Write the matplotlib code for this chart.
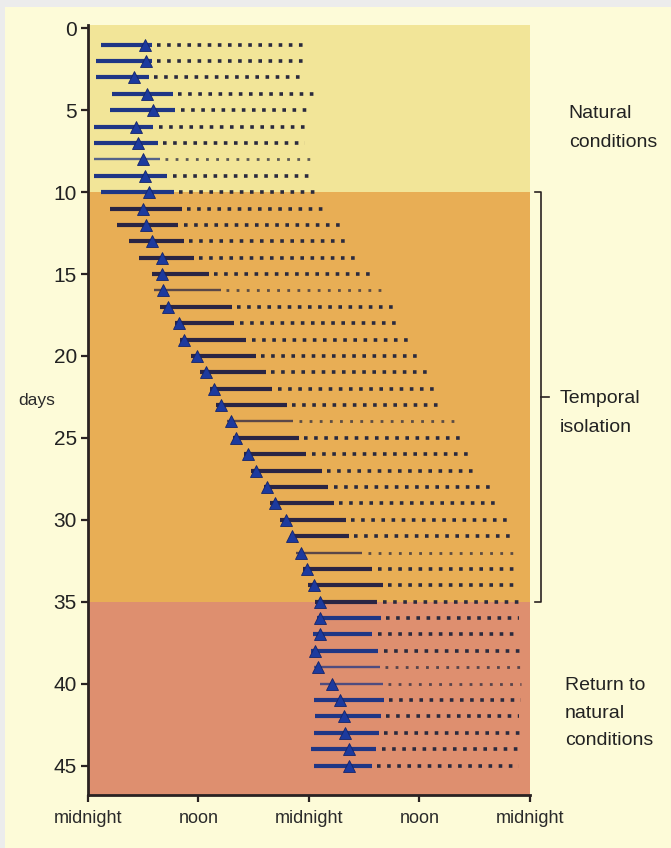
import matplotlib.pyplot as plt
from matplotlib.patches import Rectangle

# one row per day, times in hours from the first midnight (double plotted, 0-48 h)
days = list(range(1, 46))
sleep_start = [1.4, 0.9, 0.9, 2.6, 2.4, 0.7, 0.7, 0.7, 0.7, 1.4,
               2.4, 3.2, 4.5, 5.5, 6.9, 7.2, 7.8, 9.4, 10.0, 11.2,
               12.2, 13.2, 13.9, 15.1, 15.7, 16.9, 17.7, 19.1, 19.8, 20.9,
               21.9, 22.6, 23.3, 23.9, 24.7, 24.9, 24.4, 24.2, 24.6, 25.2,
               24.5, 24.7, 24.5, 24.2, 24.5]
temp_min = [6.2, 6.3, 5.0, 6.4, 7.1, 5.2, 5.4, 6.0, 6.2, 6.6,
            6.0, 6.3, 6.9, 8.0, 8.0, 8.2, 8.7, 9.9, 10.4, 11.8,
            12.8, 13.7, 14.5, 15.5, 16.1, 17.4, 18.3, 19.4, 20.3, 21.5,
            22.2, 23.1, 23.8, 24.5, 25.2, 25.2, 25.2, 24.7, 25.0, 26.5,
            27.4, 27.8, 27.9, 28.4, 28.3]
sleep_end = [6.9, 6.9, 6.6, 9.2, 9.5, 7.1, 7.6, 7.8, 8.6, 9.3,
             10.2, 9.8, 10.4, 11.5, 13.1, 14.4, 15.6, 15.9, 17.2, 18.2,
             19.3, 20.0, 21.6, 22.3, 22.9, 23.7, 25.4, 26.1, 26.7, 28.0,
             28.3, 29.8, 30.9, 32.0, 31.4, 31.8, 30.9, 31.5, 31.7, 32.0,
             32.1, 31.8, 31.6, 31.3, 30.8]
wake_end = [23.8, 23.8, 23.6, 24.7, 24.2, 24.2, 23.6, 24.5, 24.5, 25.1,
            26.1, 27.8, 28.5, 29.6, 30.9, 32.5, 33.6, 33.9, 35.0, 36.1,
            37.2, 38.0, 38.7, 39.8, 40.8, 41.9, 42.5, 43.9, 44.8, 45.9,
            46.5, 46.8, 46.8, 46.8, 47.2, 46.8, 46.8, 47.2, 47.0, 47.0,
            47.0, 46.8, 47.2, 47.2, 46.8]
faint_days = [8, 16, 24, 32, 39, 40]

# phases: (first day, last day, colour, label)
phases = [(-0.2, 10, '#f2e598', 'Natural\nconditions'),
          (10, 35, '#e8ae55', 'Temporal\nisolation'),
          (35, 46.8, '#de8f6f', 'Return to\nnatural\nconditions')]

x_ticks = [0, 12, 24, 36, 48]
x_labels = ['midnight', 'noon', 'midnight', 'noon', 'midnight']
y_ticks = list(range(0, 46, 5))

plt.rcParams['font.family'] = ['Liberation Sans', 'DejaVu Sans']

fig = plt.figure(figsize=(6.71, 8.48), dpi=100, facecolor='#ececec')
fig.patches.append(Rectangle((0.008, 0), 0.992, 0.992, transform=fig.transFigure,
                             facecolor='#fdfbd8', edgecolor='none', zorder=-1))
ax = fig.add_axes([0.1311, 0.0625, 0.6587, 0.908])

for y0, y1, col, _ in phases:
    ax.axhspan(y0, y1, color=col, lw=0, zorder=0)

gap = 0.6
for i, d in enumerate(days):
    natural = d <= 10 or d > 35
    line_col = '#1f3685' if natural else '#2a2544'
    faint = d in faint_days
    alpha = 0.75 if faint else 1.0
    ax.plot([sleep_start[i], sleep_end[i]], [d, d], color=line_col,
            lw=1.7 if faint else 3.0, alpha=alpha, solid_capstyle='butt', zorder=2)
    dot_lw = 2.0 if faint else 2.6
    ax.plot([sleep_end[i] + gap, wake_end[i]], [d, d], color='#2a2a3e',
            lw=dot_lw, alpha=alpha, linestyle=(0, (1, 7.3 / dot_lw - 1)),
            dash_capstyle='butt', zorder=2)
    ax.plot(temp_min[i], d, marker='^', markersize=8.5, color='#1c3a9e',
            markeredgecolor='#14246a', markeredgewidth=0.6, zorder=3)

ax.set_xlim(0, 48)
ax.set_ylim(46.8, -0.2)
ax.set_xticks(x_ticks)
ax.set_xticklabels(x_labels, fontsize=13, color='#2a2a2a')
ax.set_yticks(y_ticks)
ax.set_yticklabels([str(v) for v in y_ticks], fontsize=15, color='#222222')
ax.tick_params(axis='both', direction='out', length=5, width=1.6, color='#2a2222')
ax.tick_params(axis='x', pad=6)
ax.tick_params(axis='y', pad=3)
for side in ['top', 'right']:
    ax.spines[side].set_visible(False)
for side in ['left', 'bottom']:
    ax.spines[side].set_linewidth(2.0)
    ax.spines[side].set_color('#2a2222')

ax.text(-5.6, 22.7, 'days', fontsize=12.5, color='#2a2a2a', ha='center', va='center')

# bracket around the isolation phase
bx = 49.2
ax.plot([bx - 0.6, bx, bx, bx - 0.6], [10, 10, 35, 35], color='#2a2222',
        lw=1.2, clip_on=False)
ax.plot([bx, bx + 0.9], [22.5, 22.5], color='#2a2222', lw=1.2, clip_on=False)

label_pos = [(52.2, 6.1, 1.95), (51.2, 23.5, 1.9), (51.8, 41.8, 1.8)]
for (_, _, _, txt), (lx, ly, ls) in zip(phases, label_pos):
    ax.text(lx, ly, txt, fontsize=14, color='#222222', ha='left', va='center',
            linespacing=ls, clip_on=False)

fig.savefig('out.png', dpi=100, facecolor=fig.get_facecolor())
